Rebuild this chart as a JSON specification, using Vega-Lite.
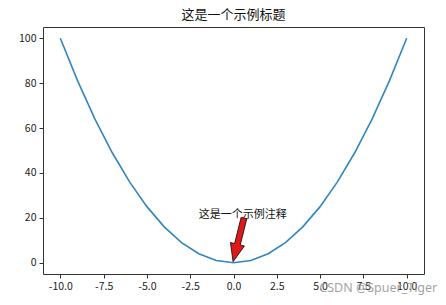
{
  "$schema": "https://vega.github.io/schema/vega-lite/v6.json",
  "autosize": {"type": "none"},
  "padding": {"left": 43, "top": 27, "right": 22, "bottom": 31},
  "width": 381,
  "height": 247,
  "background": "white",
  "title": {"text": "这是一个示例标题", "font": "Noto Sans CJK SC", "fontSize": 13, "fontWeight": "normal", "color": "#111", "offset": 5},
  "config": {
    "view": {"stroke": "#333", "strokeWidth": 1},
    "axis": {"domain": false, "grid": false, "tickColor": "#333", "tickSize": 4, "labelFont": "Noto Sans CJK SC", "labelFontSize": 10.5, "labelColor": "#222", "labelPadding": 3, "title": null}
  },
  "layer": [
    {
      "data": {"values": [
        {"x": -10, "y": 100}, {"x": -9, "y": 81}, {"x": -8, "y": 64}, {"x": -7, "y": 49},
        {"x": -6, "y": 36}, {"x": -5, "y": 25}, {"x": -4, "y": 16}, {"x": -3, "y": 9},
        {"x": -2, "y": 4}, {"x": -1, "y": 1}, {"x": 0, "y": 0}, {"x": 1, "y": 1},
        {"x": 2, "y": 4}, {"x": 3, "y": 9}, {"x": 4, "y": 16}, {"x": 5, "y": 25},
        {"x": 6, "y": 36}, {"x": 7, "y": 49}, {"x": 8, "y": 64}, {"x": 9, "y": 81},
        {"x": 10, "y": 100}
      ]},
      "mark": {"type": "line", "color": "#3186be", "strokeWidth": 1.6},
      "encoding": {
        "x": {"field": "x", "type": "quantitative", "scale": {"domain": [-11, 11], "nice": false, "zero": false},
              "axis": {"values": [-10, -7.5, -5, -2.5, 0, 2.5, 5, 7.5, 10], "labelExpr": "replace(format(datum.value, '.1f'), '−', '-')"}},
        "y": {"field": "y", "type": "quantitative", "scale": {"domain": [-5, 105], "nice": false, "zero": false},
              "axis": {"values": [0, 20, 40, 60, 80, 100]}}
      }
    },
    {
      "data": {"values": [{"x": -2, "y": 20, "label": "这是一个示例注释"}]},
      "mark": {"type": "text", "align": "left", "baseline": "alphabetic", "font": "Noto Sans CJK SC", "fontSize": 11, "color": "#111"},
      "encoding": {
        "x": {"field": "x", "type": "quantitative"},
        "y": {"field": "y", "type": "quantitative"},
        "text": {"field": "label"}
      }
    },
    {
      "data": {"values": [{"x": 0.29, "y": 10.2}]},
      "mark": {"type": "point", "shape": "M-0.13,-1 L0.13,-1 L0.13,0.2 L0.32,0.2 L0,1 L-0.32,0.2 L-0.13,0.2 Z", "size": 2025, "angle": 14, "filled": true, "fill": "#e01818", "stroke": "#111", "strokeWidth": 0.8, "opacity": 1},
      "encoding": {
        "x": {"field": "x", "type": "quantitative"},
        "y": {"field": "y", "type": "quantitative"}
      }
    },
    {
      "data": {"values": [{"x": 8.36, "y": -11.2, "label": "CSDN @Spuer_Tiger"}]},
      "mark": {"type": "text", "align": "center", "baseline": "middle", "font": "Noto Sans", "fontSize": 12.5, "color": "#9a9a9a", "opacity": 0.9},
      "encoding": {
        "x": {"field": "x", "type": "quantitative"},
        "y": {"field": "y", "type": "quantitative"},
        "text": {"field": "label"}
      }
    }
  ]
}
